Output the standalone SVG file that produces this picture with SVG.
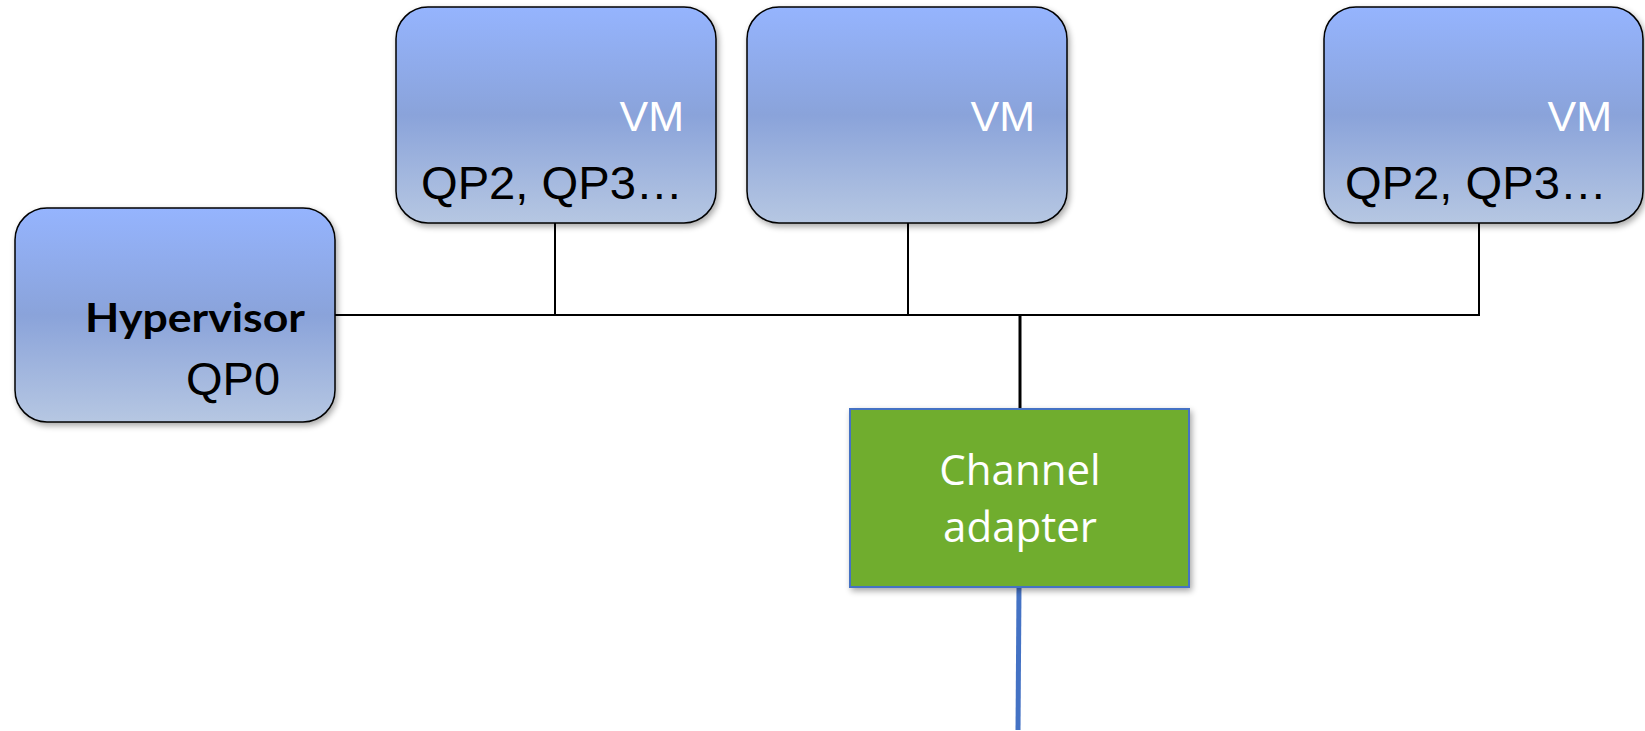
<svg xmlns="http://www.w3.org/2000/svg" width="1645" height="731" viewBox="0 0 1645 731">
<defs>
<linearGradient id="blueGrad" x1="0" y1="0" x2="0" y2="1">
<stop offset="0" stop-color="#95B4FE"/>
<stop offset="0.5" stop-color="#8AA3DA"/>
<stop offset="1" stop-color="#B6C7E2"/>
</linearGradient>
<filter id="shadow" x="-10%" y="-10%" width="125%" height="125%">
<feGaussianBlur in="SourceAlpha" stdDeviation="3"/>
<feOffset dx="2" dy="3"/>
<feComponentTransfer><feFuncA type="linear" slope="0.35"/></feComponentTransfer>
<feMerge><feMergeNode/><feMergeNode in="SourceGraphic"/></feMerge>
</filter>
</defs>
<style>
.vmbox{fill:url(#blueGrad);stroke:#000;stroke-width:1.5;filter:url(#shadow)}
.vm{font-family:"Liberation Sans",Arial,sans-serif;font-size:43px;fill:#fff;text-anchor:end}
.qp{font-family:"Liberation Sans",Arial,sans-serif;font-size:47px;fill:#000}
.wire{stroke:#000;stroke-width:2;fill:none}
.ca{font-family:"Open Sans",sans-serif;font-size:42px;fill:#fff;text-anchor:middle}
</style>
<rect width="1645" height="731" fill="#fff"/>
<g id="connectors">
<polyline class="wire" points="335,315 1479,315 1479,223"/>
<line class="wire" x1="555" y1="223" x2="555" y2="315"/>
<line class="wire" x1="908" y1="223" x2="908" y2="315"/>
<line x1="1020" y1="315" x2="1020" y2="409" stroke="#000" stroke-width="3"/>
<line x1="1019" y1="587" x2="1018" y2="730" stroke="#4472C4" stroke-width="5"/>
</g>
<g id="hypervisor">
<rect class="vmbox" x="15" y="208" width="320" height="214" rx="32"/>
<text x="305" y="332" font-family="Lato,'Open Sans',sans-serif" font-weight="bold" font-size="40" text-anchor="end" textLength="220" lengthAdjust="spacingAndGlyphs">Hypervisor</text>
<text class="qp" x="186" y="395" font-size="45">QP0</text>
</g>
<g id="vm1">
<rect class="vmbox" x="396" y="7" width="320" height="216" rx="32"/>
<text class="vm" x="684" y="131">VM</text>
<text class="qp" x="421" y="199" textLength="262" lengthAdjust="spacingAndGlyphs">QP2, QP3…</text>
</g>
<g id="vm2">
<rect class="vmbox" x="747" y="7" width="320" height="216" rx="32"/>
<text class="vm" x="1035" y="131">VM</text>
</g>
<g id="vm3">
<rect class="vmbox" x="1324" y="7" width="319" height="216" rx="32"/>
<text class="vm" x="1612" y="131">VM</text>
<text class="qp" x="1345" y="199" textLength="262" lengthAdjust="spacingAndGlyphs">QP2, QP3…</text>
</g>
<g id="channel-adapter">
<rect x="850" y="409" width="339" height="178" fill="#70AD2F" stroke="#4472C4" stroke-width="2" filter="url(#shadow)"/>
<text class="ca" x="1020" y="485">Channel</text>
<text class="ca" x="1020" y="542">adapter</text>
</g>
</svg>
